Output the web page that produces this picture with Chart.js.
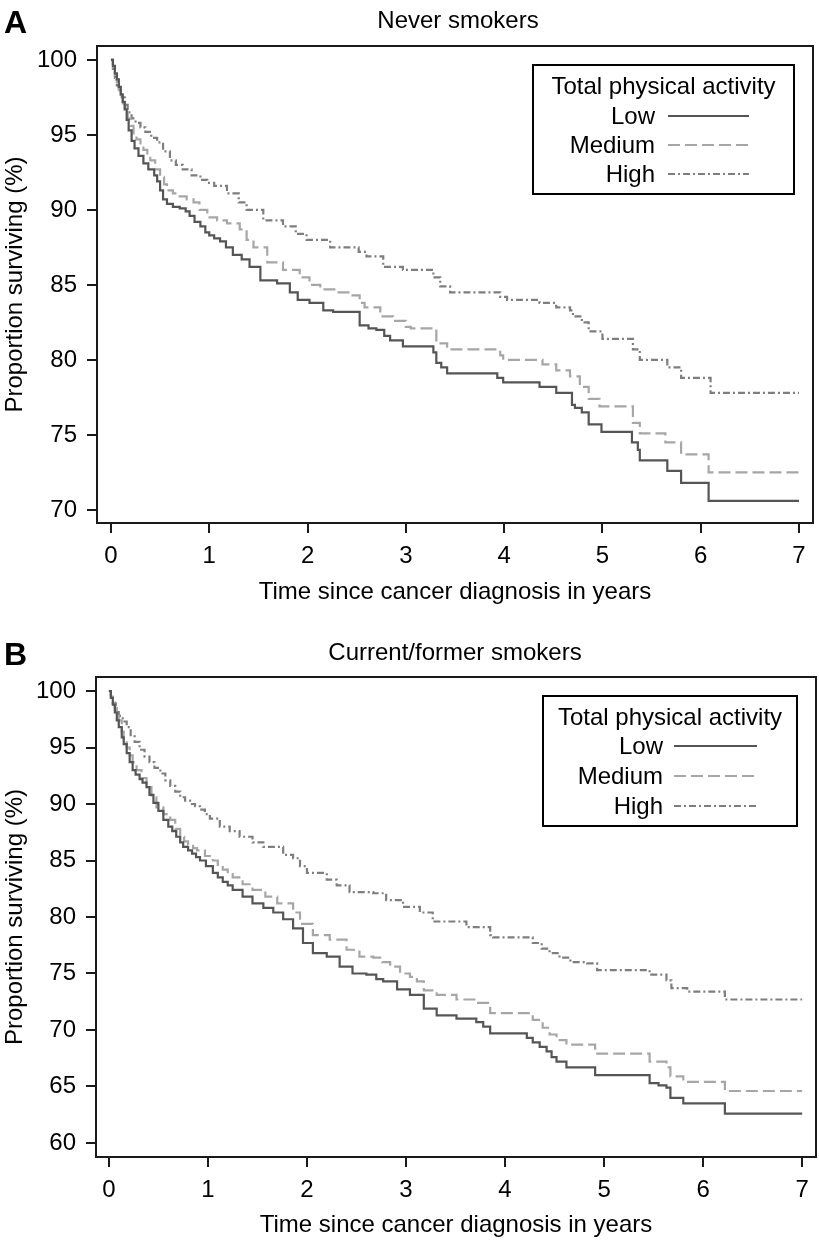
<!DOCTYPE html>
<html>
<head>
<meta charset="utf-8">
<script src="https://cdn.jsdelivr.net/npm/chart.js@4.4.1/dist/chart.umd.min.js"></script>
<style>
  html, body { margin: 0; padding: 0; background: #fff; }
  .panel { position: absolute; left: 0; width: 819px; }
  #panelA { top: 0; height: 620px; }
  #panelB { top: 620px; height: 623px; }
</style>
</head>
<body>
<div class="panel" id="panelA"><canvas id="chartA"></canvas></div>
<div class="panel" id="panelB"><canvas id="chartB"></canvas></div>
<script>
// tick labels
const xTicks = [0, 1, 2, 3, 4, 5, 6, 7];
const yTicksA = [70, 75, 80, 85, 90, 95, 100];
const yTicksB = [60, 65, 70, 75, 80, 85, 90, 95, 100];
const groupLabels = ['Low', 'Medium', 'High'];
const legendTitle = 'Total physical activity';

// A: never smokers (time in years, survival %)
const timeLowA = [0, 0.02, 0.04, 0.06, 0.08, 0.10, 0.12, 0.14, 0.16, 0.18, 0.21, 0.24, 0.28, 0.33, 0.38, 0.44, 0.47, 0.50, 0.53, 0.57, 0.63, 0.70, 0.76, 0.80, 0.85, 0.91, 0.96, 1.00, 1.05, 1.11, 1.17, 1.24, 1.33, 1.41, 1.52, 1.69, 1.82, 1.90, 2.02, 2.16, 2.26, 2.53, 2.62, 2.70, 2.78, 2.84, 2.97, 3.28, 3.31, 3.36, 3.42, 3.93, 3.99, 4.36, 4.53, 4.69, 4.72, 4.79, 4.86, 4.99, 5.30, 5.36, 5.38, 5.66, 5.80, 6.08, 7.0];
const survLowA = [100, 99.6, 99.1, 98.7, 98.2, 97.7, 97.2, 96.7, 96.0, 95.3, 94.6, 94.1, 93.6, 93.1, 92.7, 92.3, 91.9, 91.3, 90.7, 90.4, 90.2, 90.1, 89.9, 89.6, 89.2, 88.9, 88.5, 88.3, 88.1, 87.9, 87.5, 87.0, 86.7, 86.2, 85.3, 85.1, 84.5, 84.0, 83.8, 83.3, 83.2, 82.3, 82.1, 82.0, 81.6, 81.3, 80.9, 80.5, 79.8, 79.5, 79.1, 78.8, 78.5, 78.2, 77.8, 77.0, 76.8, 76.5, 75.7, 75.2, 74.5, 74.0, 73.3, 72.6, 71.8, 70.6, 70.6];
const timeMedA = [0, 0.02, 0.04, 0.06, 0.08, 0.10, 0.12, 0.14, 0.17, 0.20, 0.23, 0.26, 0.30, 0.33, 0.37, 0.40, 0.45, 0.50, 0.54, 0.57, 0.63, 0.70, 0.77, 0.84, 0.90, 0.98, 1.08, 1.18, 1.31, 1.38, 1.45, 1.59, 1.75, 1.92, 2.02, 2.13, 2.30, 2.43, 2.53, 2.58, 2.74, 2.87, 3.00, 3.05, 3.31, 3.42, 3.96, 3.99, 4.39, 4.53, 4.67, 4.77, 4.86, 4.97, 5.31, 5.38, 5.64, 5.80, 6.08, 7.0];
const survMedA = [100, 99.5, 99.0, 98.5, 98.0, 97.5, 97.1, 96.7, 96.1, 95.6, 95.1, 94.7, 94.3, 94.0, 93.6, 93.3, 92.7, 92.2, 91.7, 91.3, 91.1, 90.9, 90.7, 90.5, 90.0, 89.5, 89.3, 89.1, 88.7, 88.0, 87.5, 86.5, 86.0, 85.5, 85.0, 84.7, 84.5, 84.3, 83.8, 83.5, 82.9, 82.6, 82.2, 82.1, 81.1, 80.7, 80.3, 80.0, 79.7, 79.3, 78.9, 78.2, 77.4, 76.9, 75.8, 75.1, 74.5, 73.7, 72.5, 72.5];
const timeHighA = [0, 0.02, 0.04, 0.06, 0.08, 0.11, 0.14, 0.17, 0.21, 0.25, 0.30, 0.35, 0.41, 0.47, 0.53, 0.60, 0.66, 0.73, 0.82, 0.91, 0.98, 1.05, 1.18, 1.30, 1.38, 1.55, 1.75, 1.88, 1.99, 2.23, 2.52, 2.60, 2.77, 2.97, 3.28, 3.35, 3.45, 3.96, 4.03, 4.36, 4.53, 4.67, 4.70, 4.79, 4.86, 5.00, 5.31, 5.38, 5.66, 5.80, 6.10, 7.0];
const survHighA = [100, 99.3, 98.8, 98.3, 97.9, 97.5, 97.0, 96.5, 96.1, 95.8, 95.5, 95.2, 94.8, 94.5, 93.9, 93.3, 93.0, 92.7, 92.3, 92.0, 91.8, 91.6, 91.1, 90.5, 90.0, 89.3, 88.9, 88.4, 88.0, 87.5, 87.2, 86.9, 86.2, 86.0, 85.5, 84.9, 84.5, 84.2, 84.0, 83.8, 83.5, 83.3, 82.9, 82.5, 81.9, 81.4, 80.7, 80.0, 79.5, 78.8, 77.8, 77.8];

// B: current/former smokers
const timeLowB = [0, 0.02, 0.04, 0.06, 0.08, 0.10, 0.13, 0.15, 0.18, 0.21, 0.24, 0.27, 0.31, 0.34, 0.38, 0.41, 0.45, 0.50, 0.55, 0.60, 0.64, 0.68, 0.72, 0.75, 0.80, 0.84, 0.88, 0.92, 0.98, 1.05, 1.10, 1.15, 1.20, 1.25, 1.35, 1.45, 1.56, 1.66, 1.76, 1.86, 1.96, 2.06, 2.20, 2.33, 2.46, 2.60, 2.70, 2.77, 2.91, 3.04, 3.18, 3.31, 3.51, 3.71, 3.78, 3.85, 4.22, 4.28, 4.35, 4.42, 4.47, 4.52, 4.62, 4.91, 5.46, 5.55, 5.63, 5.67, 5.80, 6.22, 7.0];
const survLowB = [100, 99.4, 98.8, 98.1, 97.4, 96.8, 95.9, 95.3, 94.5, 93.7, 93.0, 92.6, 92.2, 91.9, 91.5, 90.8, 90.1, 89.4, 88.6, 88.0, 87.6, 87.1, 86.6, 86.2, 85.9, 85.6, 85.3, 85.0, 84.5, 83.9, 83.5, 83.1, 82.8, 82.4, 81.8, 81.2, 80.8, 80.4, 79.8, 79.0, 77.7, 76.8, 76.5, 75.6, 75.0, 74.9, 74.5, 74.3, 73.6, 73.1, 71.9, 71.3, 71.0, 70.7, 70.3, 69.7, 69.3, 68.9, 68.5, 68.1, 67.6, 67.2, 66.7, 66.0, 65.3, 65.1, 64.9, 64.0, 63.5, 62.6, 62.6];
const timeMedB = [0, 0.02, 0.04, 0.06, 0.08, 0.10, 0.13, 0.15, 0.18, 0.21, 0.24, 0.28, 0.33, 0.38, 0.43, 0.48, 0.55, 0.62, 0.67, 0.72, 0.76, 0.80, 0.85, 0.89, 0.97, 1.05, 1.10, 1.15, 1.20, 1.25, 1.35, 1.45, 1.58, 1.70, 1.86, 1.93, 2.06, 2.23, 2.40, 2.53, 2.67, 2.76, 2.84, 2.94, 3.04, 3.11, 3.18, 3.31, 3.51, 3.71, 3.85, 4.28, 4.38, 4.45, 4.52, 4.62, 4.91, 5.46, 5.63, 5.67, 5.80, 6.22, 7.0];
const survMedB = [100, 99.5, 99.0, 98.5, 98.0, 97.4, 96.4, 95.8, 95.0, 94.3, 93.7, 93.0, 92.3, 91.5, 90.6, 89.7, 89.1, 88.6, 87.8, 87.1, 86.7, 86.4, 86.1, 85.9, 85.4, 85.0, 84.6, 84.2, 83.8, 83.5, 82.9, 82.4, 81.8, 81.2, 80.4, 79.4, 78.4, 78.0, 77.1, 76.5, 76.4, 76.0, 75.6, 75.0, 74.7, 74.3, 73.5, 73.1, 72.7, 72.4, 71.5, 70.9, 70.2, 69.6, 69.1, 68.7, 67.9, 67.2, 66.7, 65.9, 65.4, 64.6, 64.6];
const timeHighB = [0, 0.02, 0.04, 0.07, 0.10, 0.14, 0.18, 0.22, 0.26, 0.31, 0.36, 0.41, 0.46, 0.52, 0.57, 0.62, 0.67, 0.72, 0.77, 0.82, 0.87, 0.92, 0.97, 1.02, 1.12, 1.22, 1.32, 1.45, 1.56, 1.76, 1.86, 1.93, 2.00, 2.20, 2.30, 2.43, 2.67, 2.80, 2.97, 3.14, 3.27, 3.61, 3.85, 3.88, 4.28, 4.37, 4.45, 4.55, 4.66, 4.83, 4.93, 5.46, 5.63, 5.68, 5.84, 6.22, 7.0];
const survHighB = [100, 99.4, 98.9, 98.3, 97.8, 97.3, 96.8, 96.1, 95.5, 94.8, 94.2, 93.7, 93.2, 92.7, 92.1, 91.6, 91.1, 90.6, 90.3, 90.0, 89.8, 89.5, 89.1, 88.7, 88.0, 87.6, 87.1, 86.6, 86.2, 85.5, 85.2, 84.5, 83.9, 83.3, 82.8, 82.2, 82.1, 81.5, 80.9, 80.4, 79.6, 79.1, 78.4, 78.2, 77.7, 77.2, 76.8, 76.4, 76.0, 75.9, 75.3, 74.9, 74.4, 73.7, 73.4, 72.7, 72.7];

const FONT = '"Liberation Sans", Arial, Helvetica, sans-serif';
Chart.defaults.font.family = FONT;
Chart.defaults.font.size = 24;
Chart.defaults.color = '#000';

const lineStyles = [
    { borderColor: '#555555', borderDash: [] },
    { borderColor: '#a6a6a6', borderDash: [12, 5] },
    { borderColor: '#7e7e7e', borderDash: [7, 3, 2, 3] }
];

function toPoints(times, surv) {
    return times.map((t, i) => ({ x: t, y: surv[i] }));
}

// box round the plot, panel letter, heading and the legend
const framePlugin = {
    id: 'frame',
    afterDraw(chart, args, o) {
        const { ctx, chartArea: a } = chart;
        ctx.save();
        ctx.strokeStyle = '#1a1a1a';
        ctx.lineWidth = 2;
        ctx.strokeRect(a.left, a.top, a.right - a.left, a.bottom - a.top);

        ctx.fillStyle = '#000';
        ctx.textBaseline = 'alphabetic';
        ctx.font = `bold 32px ${FONT}`;
        ctx.textAlign = 'left';
        ctx.fillText(o.letter, 4, o.letterY);

        ctx.font = `24px ${FONT}`;
        ctx.textAlign = 'center';
        ctx.fillText(o.heading, o.headingX, o.headingY);

        const L = o.legend;
        ctx.strokeStyle = '#000';
        ctx.lineWidth = 2;
        ctx.strokeRect(L.x, L.y, L.w, L.h);
        ctx.fillText(legendTitle, L.x + L.w / 2, L.y + 29);
        chart.data.datasets.forEach((ds, i) => {
            const yy = L.y + L.firstRow + i * L.rowGap;
            ctx.textAlign = 'right';
            ctx.fillStyle = '#000';
            ctx.fillText(ds.label, L.labelRight, yy + 8);
            ctx.strokeStyle = ds.borderColor;
            ctx.setLineDash(ds.borderDash);
            ctx.beginPath();
            ctx.moveTo(L.lineX0, yy);
            ctx.lineTo(L.lineX1, yy);
            ctx.stroke();
            ctx.setLineDash([]);
        });
        ctx.restore();
    }
};

function makePanel(canvasId, series, p) {
    const datasets = series.map((s, i) => ({
        label: groupLabels[i],
        data: toPoints(s[0], s[1]),
        borderColor: lineStyles[i].borderColor,
        borderDash: lineStyles[i].borderDash,
        borderWidth: 2.2,
        pointRadius: 0,
        stepped: true,
        fill: false
    }));
    return new Chart(document.getElementById(canvasId), {
        type: 'line',
        data: { datasets },
        plugins: [framePlugin],
        options: {
            responsive: true,
            maintainAspectRatio: false,
            animation: false,
            devicePixelRatio: 1,
            layout: { padding: { top: p.padTop, right: p.padRight, left: 0, bottom: 0 } },
            plugins: {
                legend: { display: false },
                tooltip: { enabled: false },
                frame: p.frame
            },
            scales: {
                x: {
                    type: 'linear',
                    min: p.xMin, max: p.xMax,
                    afterBuildTicks: s => { s.ticks = xTicks.map(v => ({ value: v })); },
                    afterFit: s => { s.height = p.xHeight; },
                    grid: { drawOnChartArea: false, drawTicks: true, tickLength: 10, color: '#1a1a1a', lineWidth: 2 },
                    border: { display: false },
                    ticks: { padding: 9, autoSkip: false, maxRotation: 0 },
                    title: { display: true, text: 'Time since cancer diagnosis in years', padding: { top: 0, bottom: p.xTitlePad } }
                },
                y: {
                    min: p.yMin, max: p.yMax,
                    afterBuildTicks: s => { s.ticks = p.yTicks.map(v => ({ value: v })); },
                    afterFit: s => { s.width = p.yWidth; },
                    grid: { drawOnChartArea: false, drawTicks: true, tickLength: 10, color: '#1a1a1a', lineWidth: 2 },
                    border: { display: false },
                    ticks: { padding: 10, autoSkip: false },
                    title: { display: true, text: 'Proportion surviving (%)', padding: { top: 1, bottom: 0 } }
                }
            }
        }
    });
}

makePanel('chartA', [[timeLowA, survLowA], [timeMedA, survMedA], [timeHighA, survHighA]], {
    padTop: 46, padRight: 6, xHeight: 97, yWidth: 97, xTitlePad: 13,
    xMin: -0.142, xMax: 7.142, yMin: 69.13, yMax: 100.93, yTicks: yTicksA,
    frame: {
        letter: 'A', letterY: 33, heading: 'Never smokers', headingX: 458, headingY: 28,
        legend: { x: 533, y: 65, w: 261, h: 129, firstRow: 51, rowGap: 29, labelRight: 655, lineX0: 668, lineX1: 749 }
    }
});

makePanel('chartB', [[timeLowB, survLowB], [timeMedB, survMedB], [timeHighB, survHighB]], {
    padTop: 57, padRight: 3, xHeight: 86, yWidth: 96, xTitlePad: 3,
    xMin: -0.13, xMax: 7.14, yMin: 58.76, yMax: 101.24, yTicks: yTicksB,
    frame: {
        letter: 'B', letterY: 45, heading: 'Current/former smokers', headingX: 455, headingY: 40,
        legend: { x: 543, y: 76, w: 254, h: 130, firstRow: 50, rowGap: 30, labelRight: 663, lineX0: 674, lineX1: 757 }
    }
});
</script>
</body>
</html>
